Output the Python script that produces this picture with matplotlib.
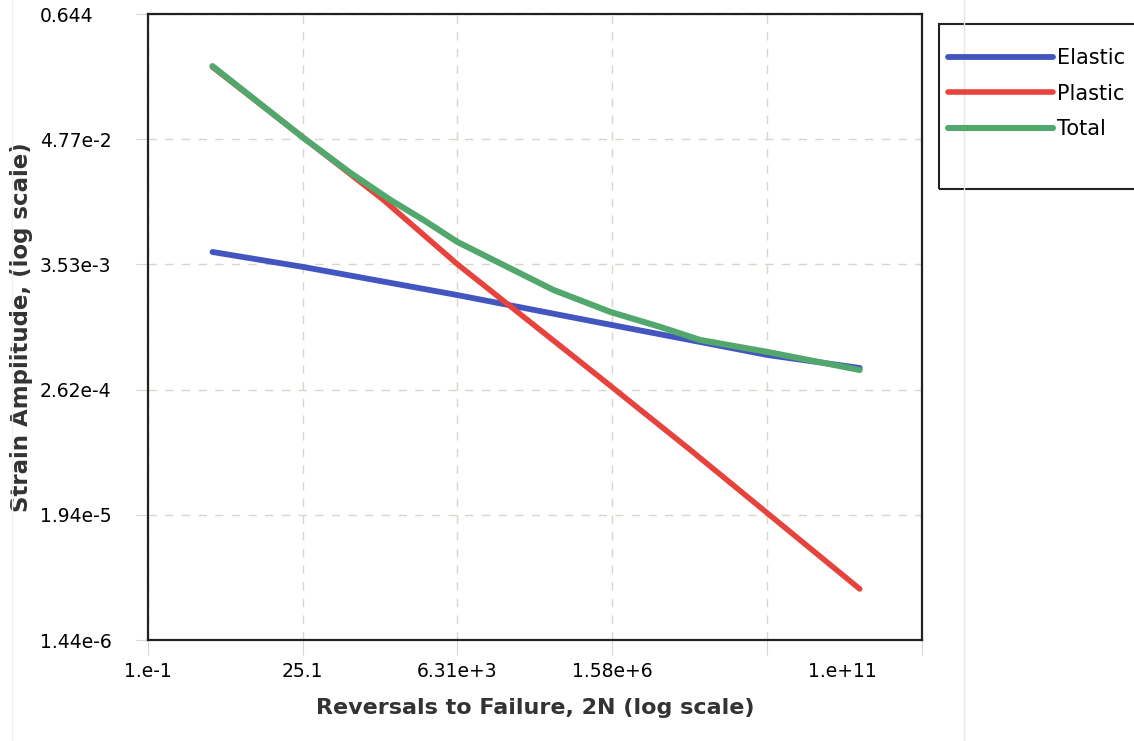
import matplotlib
matplotlib.use("Agg")
import matplotlib.pyplot as plt
from matplotlib.patches import Rectangle
from matplotlib.lines import Line2D

# values (log-log strain-life curves)
elastic_n = [1.0, 25.9, 6310, 1.05e6, 3.7e7, 4.1e8, 1.1e10]
elastic_e = [4.58e-3, 3.35e-3, 1.87e-3, 1.05e-3, 7.05e-4, 5.38e-4, 4.11e-4]

plastic_n = [1.0, 450, 6310, 1.05e6, 2.6e7, 1.1e10]
plastic_e = [0.214, 1.35e-2, 3.55e-3, 3.34e-4, 7.47e-5, 4.16e-6]

total_n = [1.0, 25.9, 138, 578, 1880, 6310, 2.64e4, 1.95e5, 1.5e6,
           8.9e6, 3.7e7, 4.1e8, 1.1e10]
total_e = [0.218, 0.049, 0.0237, 0.01349, 0.00891, 0.00564, 0.00372,
           0.00208, 0.001315, 9.64e-4, 7.35e-4, 5.73e-4, 3.94e-4]

xticks = [1e-1, 25.1, 6.31e3, 1.58e6, 3.98e8, 1e11]
xtick_labels = ["1.e-1", "25.1", "6.31e+3", "1.58e+6", "", ""]
yticks = [1.44e-6, 1.94e-5, 2.62e-4, 3.53e-3, 4.77e-2, 0.644]
ytick_labels = ["1.44e-6", "1.94e-5", "2.62e-4", "3.53e-3", "4.77e-2", "0.644"]

c_el = "#4356c0"
c_pl = "#e8423c"
c_to = "#52a86c"
grid_c = "#d9d5c9"

fig = plt.figure(figsize=(11.34, 7.41), dpi=100)
ax = fig.add_axes([148 / 1134, 1 - 640 / 741, (921.5 - 148) / 1134, (640 - 14) / 741])

ax.plot(elastic_n, elastic_e, color=c_el, lw=4.2, solid_capstyle="round", label="Elastic", zorder=3)
ax.plot(plastic_n, plastic_e, color=c_pl, lw=4.0, solid_capstyle="round", label="Plastic", zorder=4)
ax.plot(total_n, total_e, color=c_to, lw=4.4, solid_capstyle="round", label="Total", zorder=5)

ax.set_xscale("log")
ax.set_yscale("log")
ax.set_xlim(1e-1, 1e11)
ax.set_ylim(1.44e-6, 0.644)

ax.set_xticks(xticks)
ax.set_xticklabels(xtick_labels)
ax.set_xticks([5.96e9], minor=True)
ax.set_xticklabels(["1.e+11"], minor=True)
ax.set_yticks(yticks)
ax.set_yticklabels(ytick_labels)
ax.yaxis.set_minor_locator(matplotlib.ticker.NullLocator())

ax.tick_params(axis="x", which="major", length=11, color=grid_c, labelsize=13.5, pad=5)
ax.tick_params(axis="x", which="minor", length=0, labelsize=13.5, pad=16)
ax.tick_params(axis="y", which="major", length=9, color=grid_c, labelsize=13.5, pad=69)
for lbl in ax.get_yticklabels():
    lbl.set_horizontalalignment("left")

ax.grid(True, which="major", color=grid_c, linestyle=(0, (6, 6)), lw=1)
for s in ax.spines.values():
    s.set_linewidth(1.6)
    s.set_color("#222222")

ax.set_xlabel("Reversals to Failure, 2N (log scale)", fontsize=16, fontweight="bold",
              color="#333333", labelpad=12)
ax.set_ylabel("Strain Amplitude, (log scale)", fontsize=16.5, fontweight="bold",
              color="#333333")
ax.yaxis.set_label_coords(-115 / 773.5, 0.5)

# legend outside the plot, cut by the right border
fig.patches.append(Rectangle((939 / 1134, 1 - 189 / 741), 0.2, 165 / 741,
                             transform=fig.transFigure, fill=False,
                             edgecolor="#222222", lw=1.5))
fig.legend(loc="upper left", bbox_to_anchor=(940 / 1134, 1 - 40 / 741),
           frameon=False, fontsize=15, handlelength=5.0, handletextpad=0.2,
           labelspacing=0.74, borderaxespad=0)

# faint window borders of the screenshot
fig.add_artist(Line2D([964 / 1134, 964 / 1134], [0, 1], color="#e8e8e8", lw=1))
fig.add_artist(Line2D([12 / 1134, 12 / 1134], [0, 1], color="#f0f0f0", lw=1))

fig.savefig("out.png", dpi=100)
